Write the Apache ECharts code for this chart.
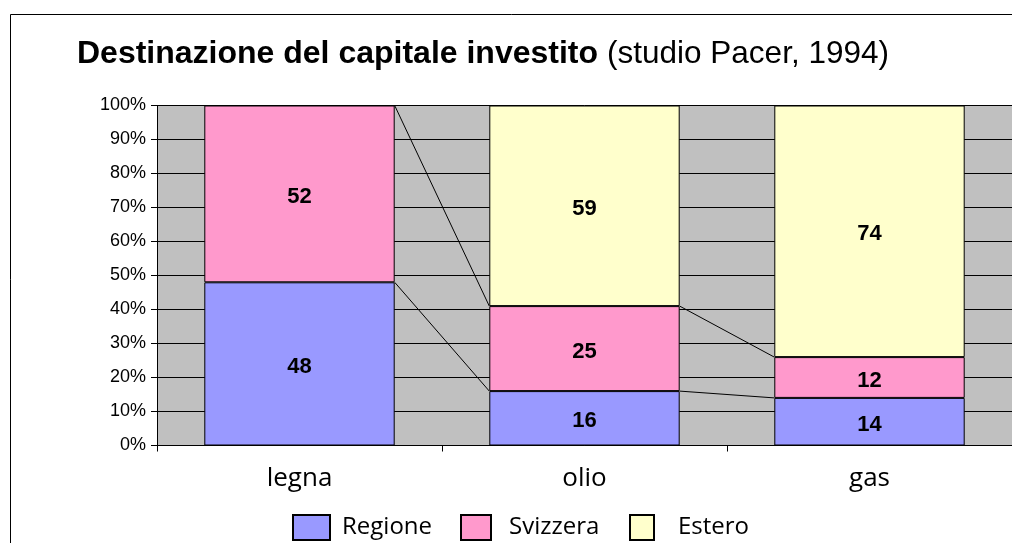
<!DOCTYPE html>
<html>
<head>
<meta charset="utf-8">
<script src="https://cdn.jsdelivr.net/npm/echarts@6/dist/echarts.min.js"></script>
<style>
html,body{margin:0;padding:0;background:#fff;}
#c{width:1012px;height:543px;}
</style>
</head>
<body>
<div id="c"></div>
<script>
const categories = ['legna', 'olio', 'gas'];
const seriesNames = ['Regione', 'Svizzera', 'Estero'];
const regione = [48, 16, 14];
const svizzera = [52, 25, 12];
const estero = [0, 59, 74];
const yTicks = [0, 10, 20, 30, 40, 50, 60, 70, 80, 90, 100];

const seriesValues = [regione, svizzera, estero];
const colors = ['#9999FF', '#FF99CC', '#FFFFCC'];
const BAR_FRAC = 0.668;

// cumulative tops of each stacked segment, used for Excel-style series lines
const lineData = [];
seriesValues.forEach((vals, k) => {
  for (let i = 0; i < categories.length - 1; i++) {
    let a = 0, b = 0;
    for (let j = 0; j <= k; j++) { a += seriesValues[j][i]; b += seriesValues[j][i + 1]; }
    lineData.push([i, a, b]);
  }
});

const chart = echarts.init(document.getElementById('c'), null, {renderer: 'canvas'});

const barSeries = seriesNames.map((name, k) => ({
  name: name,
  type: 'bar',
  stack: 'total',
  barWidth: (BAR_FRAC * 100) + '%',
  data: seriesValues[k],
  itemStyle: {color: colors[k], borderColor: '#000', borderWidth: 1},
  label: {
    show: true,
    position: 'inside',
    offset: [0, 3],
    color: '#000',
    fontFamily: 'Liberation Sans, Arial, sans-serif',
    fontWeight: 'bold',
    fontSize: 22,
    formatter: p => (p.value ? String(p.value) : '')
  },
  emphasis: {disabled: true},
  animation: false
}));

const legendBase = {
  top: 514,
  padding: 0,
  itemHeight: 25,
  icon: 'rect',
  selectedMode: false,
  textStyle: {fontFamily: 'Open Sans, sans-serif', fontSize: 24, color: '#000'}
};

const option = {
  animation: false,
  title: {
    left: 77,
    top: 38,
    padding: 0,
    text: '{b|Destinazione del capitale investito} {n|(studio Pacer, 1994)}',
    textStyle: {
      rich: {
        b: {fontFamily: 'Liberation Sans, Arial, sans-serif', fontWeight: 'bold', fontSize: 32, color: '#000'},
        n: {fontFamily: 'Liberation Sans, Arial, sans-serif', fontWeight: 'normal', fontSize: 31.5, color: '#000', padding: [0, 0, 0, 4]}
      }
    }
  },
  graphic: [{
    type: 'rect',
    shape: {x: 10.5, y: 14.5, width: 1100, height: 600},
    style: {fill: 'none', stroke: '#000', lineWidth: 1},
    silent: true,
    z: 100
  }],
  legend: [
    Object.assign({}, legendBase, {left: 292, itemWidth: 37, data: ['Regione'],
      textStyle: Object.assign({}, legendBase.textStyle, {padding: [0, 0, 0, 7]})}),
    Object.assign({}, legendBase, {left: 460, itemWidth: 30, data: ['Svizzera'],
      textStyle: Object.assign({}, legendBase.textStyle, {padding: [0, 0, 0, 13]})}),
    Object.assign({}, legendBase, {left: 629, itemWidth: 24, data: ['Estero'],
      textStyle: Object.assign({}, legendBase.textStyle, {padding: [0, 0, 0, 19]})})
  ],
  grid: {
    left: 157,
    top: 105.5,
    width: 858,
    height: 340,
    show: true,
    backgroundColor: '#C0C0C0',
    borderWidth: 0
  },
  xAxis: {
    type: 'category',
    data: categories,
    axisLine: {lineStyle: {color: '#000', width: 1}},
    axisTick: {show: true, length: 6, lineStyle: {color: '#000'}},
    axisLabel: {margin: 20, color: '#000', fontFamily: 'Open Sans, sans-serif', fontSize: 26}
  },
  yAxis: {
    type: 'value',
    min: 0,
    max: 100,
    interval: 10,
    axisLine: {show: true, lineStyle: {color: '#000', width: 1}},
    axisTick: {show: true, length: 6, lineStyle: {color: '#000'}},
    splitLine: {show: true, lineStyle: {color: '#000', width: 1}},
    axisLabel: {
      margin: 11,
      color: '#000',
      fontFamily: 'Liberation Sans, Arial, sans-serif',
      fontSize: 18,
      formatter: v => (yTicks.indexOf(v) >= 0 ? v + '%' : '')
    }
  },
  series: barSeries.concat([{
    type: 'custom',
    name: 'serieslines',
    data: lineData,
    encode: {x: 0, y: [1, 2]},
    silent: true,
    z: 5,
    renderItem: (params, api) => {
      const i = api.value(0);
      const band = api.size([1, 0])[0];
      const half = band * BAR_FRAC / 2;
      const p0 = api.coord([i, api.value(1)]);
      const p1 = api.coord([i + 1, api.value(2)]);
      return {
        type: 'line',
        shape: {x1: p0[0] + half, y1: p0[1], x2: p1[0] - half, y2: p1[1]},
        style: {stroke: '#000', lineWidth: 1}
      };
    }
  }])
};
chart.setOption(option);
</script>
</body>
</html>
